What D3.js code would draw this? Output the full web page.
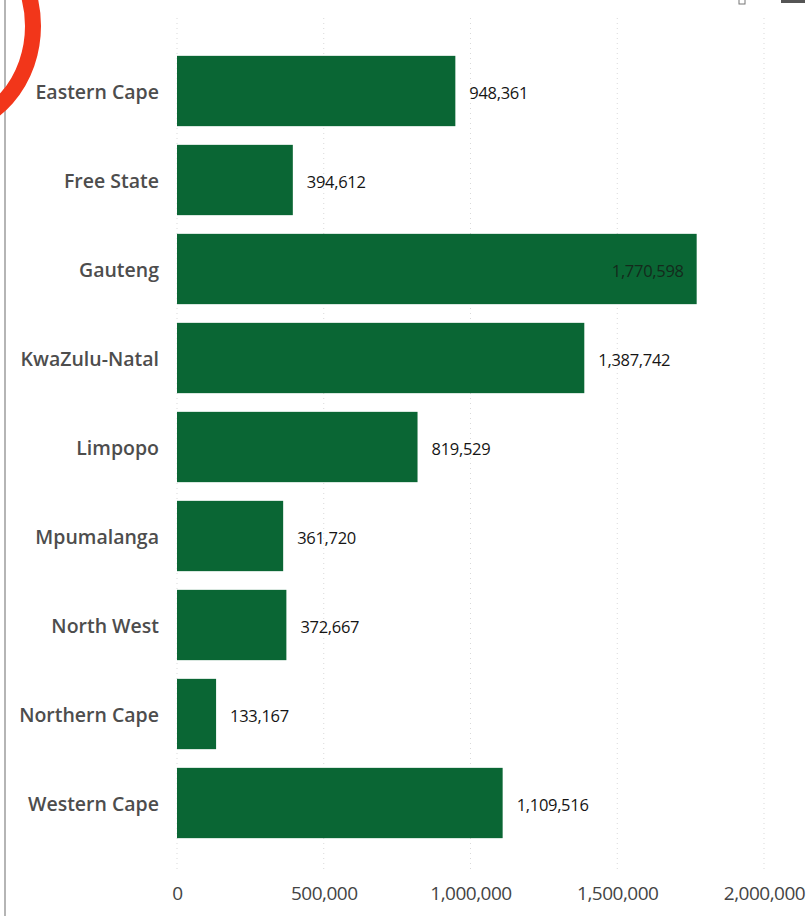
<!DOCTYPE html>
<html>
<head>
<meta charset="utf-8">
<script src="https://cdn.jsdelivr.net/npm/d3@7"></script>
<style>
  html, body { margin: 0; padding: 0; background: #fff; }
  svg { display: block; }
</style>
</head>
<body>
<svg id="chart" width="812" height="916"></svg>
<script>
const provinces = ["Eastern Cape", "Free State", "Gauteng", "KwaZulu-Natal", "Limpopo",
  "Mpumalanga", "North West", "Northern Cape", "Western Cape"];
const values = [948361, 394612, 1770598, 1387742, 819529, 361720, 372667, 133167, 1109516];
const tickValues = [0, 500000, 1000000, 1500000, 2000000];

const svg = d3.select("#chart");
const fmt = d3.format(",");
const font = "'Open Sans', 'Noto Sans', sans-serif";

const x = d3.scaleLinear().domain([0, 2000000]).range([177, 764]);
const y = d3.scaleBand().domain(provinces).range([46.5, 847.5])
  .paddingInner(0.21).paddingOuter(0.105);

// left border line of the frame
svg.append("rect").attr("x", 4).attr("y", 0).attr("width", 2).attr("height", 916).attr("fill", "#b5b5b5");

// gridlines
svg.append("g").selectAll("line").data(tickValues).join("line")
  .attr("x1", d => x(d)).attr("x2", d => x(d))
  .attr("y1", 18).attr("y2", 872)
  .attr("stroke", "#d9d9d9").attr("stroke-width", 1)
  .attr("stroke-dasharray", "1,4");

// bars
svg.append("g").selectAll("rect").data(provinces).join("rect")
  .attr("x", x(0))
  .attr("y", d => y(d))
  .attr("width", (d, i) => x(values[i]) - x(0))
  .attr("height", y.bandwidth())
  .attr("fill", "#0a6634");

// value labels
svg.append("g").selectAll("text").data(provinces).join("text")
  .attr("x", (d, i) => values[i] > 1600000 ? x(values[i]) - 13 : x(values[i]) + 14)
  .attr("y", d => y(d) + y.bandwidth() / 2 + 2)
  .attr("dy", "0.35em")
  .attr("text-anchor", (d, i) => values[i] > 1600000 ? "end" : "start")
  .attr("font-family", font).attr("font-size", 16.5)
  .attr("letter-spacing", -0.3)
  .attr("fill", (d, i) => values[i] > 1600000 ? "#142a1c" : "#151515")
  .text((d, i) => fmt(values[i]));

// category axis
const yAxis = d3.axisLeft(y).tickSize(0).tickPadding(0);
const gy = svg.append("g").attr("transform", "translate(159,2)").call(yAxis);
gy.select(".domain").remove();
gy.selectAll("text").attr("font-family", font).attr("font-size", 19.5)
  .attr("font-weight", 600).attr("fill", "#4d4d4d");

// value axis
const xAxis = d3.axisBottom(x).tickValues(tickValues).tickFormat(fmt).tickSize(0).tickPadding(0);
const gx = svg.append("g").attr("transform", "translate(0,886)").call(xAxis);
gx.select(".domain").remove();
gx.selectAll("text").attr("font-family", font).attr("font-size", 19)
  .attr("fill", "#444").attr("dy", "0.71em").attr("letter-spacing", -0.5);

// red annotation arc at top-left
svg.append("ellipse").attr("cx", -57).attr("cy", 26).attr("rx", 90).attr("ry", 102)
  .attr("fill", "none").attr("stroke", "#f2361a").attr("stroke-width", 16);

// top-right small toolbar marks
svg.append("rect").attr("x", 781).attr("y", 0).attr("width", 24).attr("height", 3).attr("fill", "#555");
svg.append("rect").attr("x", 739).attr("y", -3).attr("width", 6).attr("height", 7)
  .attr("fill", "none").attr("stroke", "#777").attr("stroke-width", 1);
</script>
</body>
</html>
